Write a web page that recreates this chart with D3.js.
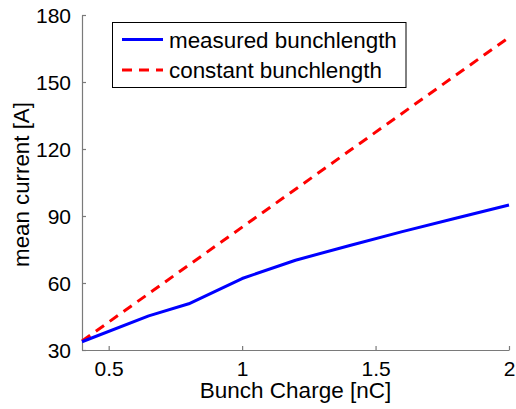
<!DOCTYPE html>
<html><head><meta charset="utf-8">
<script src="https://cdn.jsdelivr.net/npm/d3@7"></script>
<style>body{margin:0;background:#fff}svg{display:block}text{font-family:"Liberation Sans",Arial,sans-serif}</style>
</head><body><svg id="c" width="516" height="409"></svg>
<script>
const charge = [0.4, 0.65, 0.8, 1.0, 1.2, 1.4, 1.6, 1.8, 2.0];
const measured = [33.7, 45.3, 50.7, 62.0, 70.2, 76.7, 83.0, 89.0, 94.9];
const chargeConst = [0.4, 2.0];
const constant = [34, 170];
const xTicks = [0.5, 1, 1.5, 2];
const yTicks = [30, 60, 90, 120, 150, 180];
const seriesNames = ["measured bunchlength", "constant bunchlength"];

const svg = d3.select("#c");
const m = {l: 82, r: 7, t: 15, b: 59};
const W = 516, H = 409;
const x = d3.scaleLinear().domain([0.4, 2]).range([m.l, W - m.r]);
const y = d3.scaleLinear().domain([30, 180]).range([H - m.b, m.t]);
const axisCol = "#7a7a7a";

const gx = svg.append("g").attr("transform", `translate(0,${H - m.b})`)
  .call(d3.axisBottom(x).tickValues(xTicks).tickFormat(d3.format("")).tickSizeInner(-4).tickSizeOuter(0).tickPadding(11));
const gy = svg.append("g").attr("transform", `translate(${m.l},0)`)
  .call(d3.axisLeft(y).tickValues(yTicks).tickSizeInner(-4).tickSizeOuter(0).tickPadding(11));
[gx, gy].forEach(g => {
  g.select(".domain").attr("stroke", axisCol).attr("stroke-width", 1.2);
  g.selectAll(".tick line").attr("stroke", axisCol).attr("stroke-width", 1.2);
  g.selectAll(".tick text").attr("fill", "#000").style("font-size", "21px");
});
gx.selectAll(".tick text").attr("dy", "0.71em");
gy.selectAll(".tick text").attr("dy", "0.36em");

const line = d3.line().x(d => x(d[0])).y(d => y(d[1]));
svg.append("path").datum(chargeConst.map((c, i) => [c, constant[i]]))
  .attr("d", line).attr("fill", "none").attr("stroke", "#ff0000").attr("stroke-width", 3)
  .attr("stroke-dasharray", "10,7");
svg.append("path").datum(charge.map((c, i) => [c, measured[i]]))
  .attr("d", line).attr("fill", "none").attr("stroke", "#0000ff").attr("stroke-width", 3)
  .attr("stroke-linejoin", "round");

svg.append("text").attr("x", (m.l + W - m.r) / 2).attr("y", 398).attr("text-anchor", "middle")
  .style("font-size", "22.5px").text("Bunch Charge [nC]");
svg.append("text").attr("transform", `translate(29,184.5) rotate(-90)`).attr("text-anchor", "middle")
  .style("font-size", "22.3px").text("mean current [A]");

const lg = svg.append("g");
lg.append("rect").attr("x", 112.5).attr("y", 22.5).attr("width", 293.5).attr("height", 65)
  .attr("fill", "#fff").attr("stroke", "#000").attr("stroke-width", 1);
const cols = ["#0000ff", "#ff0000"], dashes = [null, "10,7"], ly = [39.5, 70];
seriesNames.forEach((n, i) => {
  lg.append("line").attr("x1", 122).attr("x2", 163).attr("y1", ly[i]).attr("y2", ly[i])
    .attr("stroke", cols[i]).attr("stroke-width", 3).attr("stroke-dasharray", dashes[i]);
  lg.append("text").attr("x", 169).attr("y", ly[i]).attr("dy", "0.36em").style("font-size", "22.4px").text(n);
});
</script></body></html>
